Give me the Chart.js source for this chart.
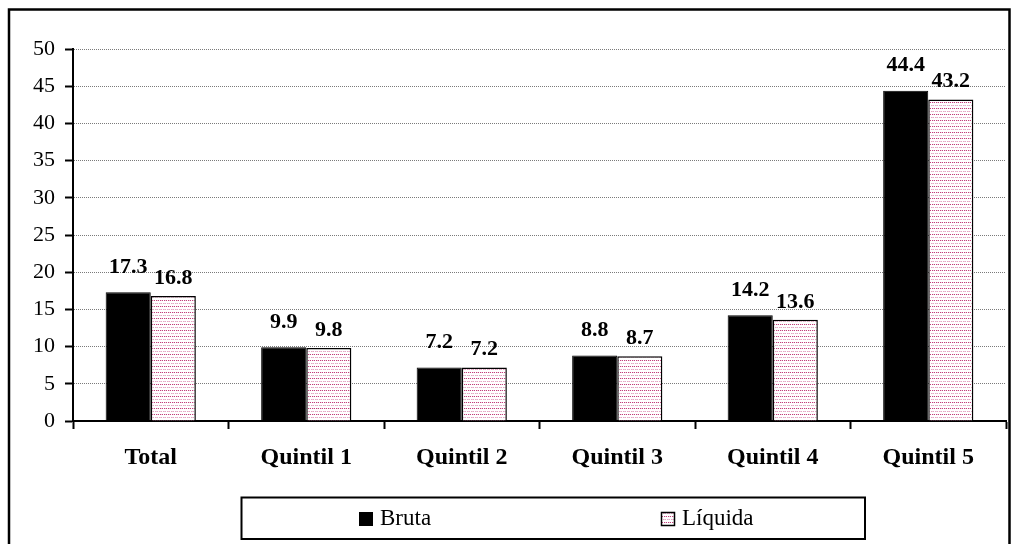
<!DOCTYPE html>
<html>
<head>
<meta charset="utf-8">
<script src="https://cdn.jsdelivr.net/npm/chart.js@4.4.1/dist/chart.umd.min.js"></script>
<style>
  html, body { margin: 0; padding: 0; background: #fff; }
  #wrap { position: relative; width: 1011px; height: 544px; }
</style>
</head>
<body>
<div id="wrap"><canvas id="c" width="1011" height="544"></canvas></div>
<script>
const categories = ['Total', 'Quintil 1', 'Quintil 2', 'Quintil 3', 'Quintil 4', 'Quintil 5'];
const brutaValues = [17.3, 9.9, 7.2, 8.8, 14.2, 44.4];
const liquidaValues = [16.8, 9.8, 7.2, 8.7, 13.6, 43.2];
const seriesNames = ['Bruta', 'Líquida'];
const yTicksMax = 50;
const yTicksStep = 5;

const FONT = "'Liberation Serif', 'Times New Roman', serif";

function makePattern() {
  const pc = document.createElement('canvas');
  pc.width = 4; pc.height = 6;
  const p = pc.getContext('2d');
  p.fillStyle = '#ffffff';
  p.fillRect(0, 0, 4, 6);
  p.fillStyle = '#c2407c';
  p.fillRect(0, 0, 1, 1);
  p.fillRect(2, 0, 1, 1);
  p.fillStyle = '#e3a6c4';
  p.fillRect(1, 3, 1, 1);
  p.fillRect(3, 3, 1, 1);
  p.fillStyle = '#efcadb';
  p.fillRect(1, 0, 1, 1);
  p.fillRect(0, 3, 1, 1);
  return document.getElementById('c').getContext('2d').createPattern(pc, 'repeat');
}
const pinkPattern = makePattern();

const labelPlugin = {
  id: 'valueLabels',
  afterDatasetsDraw(chart) {
    const ctx = chart.ctx;
    ctx.save();
    ctx.font = 'bold 22px ' + FONT;
    ctx.fillStyle = '#000';
    ctx.textAlign = 'center';
    ctx.textBaseline = 'middle';
    const offsets = [25, 18];
    chart.data.datasets.forEach((ds, di) => {
      const meta = chart.getDatasetMeta(di);
      meta.data.forEach((bar, i) => {
        ctx.fillText(ds.data[i].toFixed(1), bar.x, bar.y - offsets[di]);
      });
    });
    ctx.restore();
  }
};

const framePlugin = {
  id: 'frameLegend',
  afterDraw(chart) {
    const ctx = chart.ctx;
    ctx.save();
    ctx.strokeStyle = '#000';
    ctx.lineWidth = 2.5;
    ctx.strokeRect(9, 9.5, 1000.5, 560);
    ctx.lineWidth = 2;
    ctx.strokeRect(241.5, 497.5, 623.5, 41.5);
    ctx.font = '23px ' + FONT;
    ctx.textBaseline = 'middle';
    ctx.textAlign = 'left';
    ctx.fillStyle = '#000';
    ctx.fillRect(359, 512, 14, 14);
    ctx.fillText(seriesNames[0], 380, 519);
    ctx.fillStyle = pinkPattern;
    ctx.fillRect(661, 512, 14, 14);
    ctx.lineWidth = 1.5;
    ctx.strokeStyle = '#000';
    ctx.strokeRect(661.5, 512.5, 13, 13);
    ctx.fillStyle = '#000';
    ctx.fillText(seriesNames[1], 682, 519);
    ctx.restore();
  }
};

Chart.defaults.font.family = FONT;

new Chart(document.getElementById('c'), {
  type: 'bar',
  data: {
    labels: categories,
    datasets: [
      {
        label: seriesNames[0],
        data: brutaValues,
        backgroundColor: '#000000',
        borderColor: '#000000',
        borderWidth: 1,
        categoryPercentage: 0.58,
        barPercentage: 1.0
      },
      {
        label: seriesNames[1],
        data: liquidaValues,
        backgroundColor: pinkPattern,
        borderColor: '#000000',
        borderWidth: 1.5,
        categoryPercentage: 0.58,
        barPercentage: 1.0
      }
    ]
  },
  options: {
    responsive: false,
    animation: false,
    devicePixelRatio: 1,
    layout: { padding: { left: 0, top: 49, right: 5, bottom: 0 } },
    plugins: {
      legend: { display: false },
      tooltip: { enabled: false }
    },
    scales: {
      x: {
        offset: true,
        grid: {
          offset: true,
          drawOnChartArea: false,
          drawTicks: true,
          tickLength: 8,
          tickColor: '#000',
          tickWidth: 2
        },
        border: { display: true, color: '#000', width: 2 },
        ticks: {
          color: '#000',
          padding: 14,
          font: { family: FONT, size: 24, weight: 'bold' },
          maxRotation: 0,
          autoSkip: false
        },
        afterFit(scale) { scale.height = 544 - 421; }
      },
      y: {
        min: 0,
        max: yTicksMax,
        ticks: {
          stepSize: yTicksStep,
          color: '#000',
          padding: 10,
          font: { family: FONT, size: 22 }
        },
        grid: {
          color: '#7a7a7a',
          lineWidth: 1,
          drawTicks: true,
          tickLength: 8,
          tickColor: '#000',
          tickWidth: 2,
          tickBorderDash: []
        },
        border: { display: true, color: '#000', width: 2, dash: [1, 1] },
        afterFit(scale) { scale.width = 73; }
      }
    }
  },
  plugins: [labelPlugin, framePlugin]
});
</script>
</body>
</html>
